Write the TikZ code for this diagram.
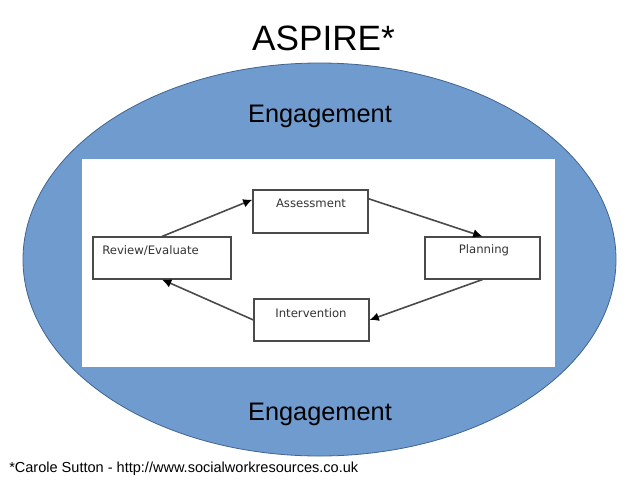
\documentclass[tikz,border=0pt]{standalone}
\usepackage{fontspec}
\setmainfont{Liberation Sans}
\newfontfamily\boxfont{DejaVu Sans}
\usetikzlibrary{arrows.meta,calc,shapes.geometric}
\definecolor{blobblue}{HTML}{6F9BCE}
\definecolor{blobedge}{HTML}{41658F}
\definecolor{linegrey}{HTML}{4A4A4A}
\tikzset{
  px/.style={x=0.75pt,y=-0.75pt},
  flowbox/.style={draw=linegrey,line width=0.8pt,fill=white,inner sep=0pt,minimum width=#1,minimum height=31.5pt},
  boxtext/.style={inner sep=0pt,font=\boxfont\fontsize{8.75}{10}\selectfont,text=black!80},
  flow/.style={draw=linegrey,line width=1.2pt,-{Latex[length=7pt,width=6.5pt,black]}},
  head/.style={inner sep=0pt,font=\fontsize{#1}{#1}\selectfont,text=black}
}
\begin{document}
\begin{tikzpicture}[px]
\useasboundingbox (0,0) rectangle (638,479);
\fill[white] (0,0) rectangle (638,479);
\node[draw=blobedge,line width=0.6pt,fill=blobblue,ellipse,inner sep=0pt,minimum width=444.75pt,minimum height=294.75pt] (blob) at (319.5,259.5) {};
\node[fill=white,inner sep=0pt,minimum width=354.75pt,minimum height=156pt] (panel) at (318.5,263) {};
\node[head=26.4] (title) at (323.5,38) {ASPIRE*};
\node[head=19] (top) at (320,116.5) {Engagement};
\node[head=19] (bottom) at (320,414) {Engagement};
\node[anchor=west,head=10.9] (credit) at (9,469) {*Carole Sutton - http://www.socialworkresources.co.uk};
\node[flowbox=103.5pt] (rev) at (162,258) {};
\node[flowbox=86.25pt,minimum height=32.25pt] (as) at (310.5,211.5) {};
\node[flowbox=86.25pt] (pl) at (482.5,258) {};
\node[flowbox=86.25pt] (in) at (311.5,320) {};
\node[boxtext,anchor=west] (revt) at (102,250.5) {Review/Evaluate};
\node[boxtext] (ast) at (311,203.5) {Assessment};
\node[boxtext] (plt) at (484,250.5) {Planning};
\node[boxtext] (int) at (311,313.5) {Intervention};
\draw[flow] (rev.north) -- ($(as.north west)!0.23!(as.south west)$);
\draw[flow] ($(as.north east)!0.21!(as.south east)$) -- (pl.north);
\draw[flow] (pl.south) -- (in.east);
\draw[flow] (in.west) -- (rev.south);
\end{tikzpicture}
\end{document}
